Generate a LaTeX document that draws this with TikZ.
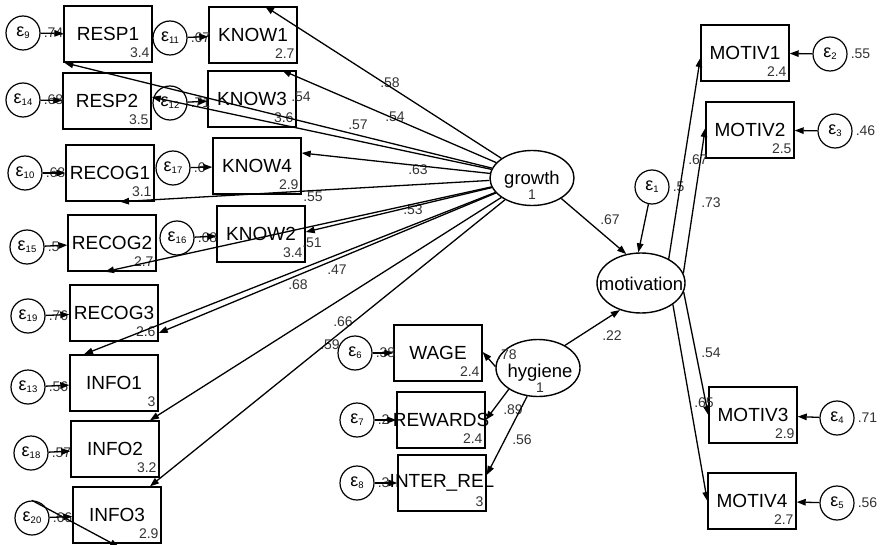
\documentclass[tikz,border=0pt]{standalone}
\usepackage{fontspec}
\setmainfont{Liberation Sans}
\usetikzlibrary{arrows.meta,shapes.geometric}

\tikzset{
  obsv/.style={draw, line width=1.4pt, minimum width=88pt, minimum height=56pt,
               inner sep=0pt, font=\fontsize{19}{19}\selectfont},
  meanv/.style={inner xsep=3pt, inner ysep=5pt, font=\fontsize{14}{14}\selectfont, text=black!80},
  latv/.style={draw, ellipse, line width=1.4pt, inner sep=0pt},
  latt/.style={inner sep=0pt, font=\fontsize{18.5}{18.5}\selectfont},
  errv/.style={draw, circle, line width=1.2pt, minimum size=34pt, inner sep=0pt},
  coef/.style={inner sep=0pt, font=\fontsize{14}{14}\selectfont, text=black!80},
  link/.style={line width=1.3pt, -{Triangle[length=9pt,width=6.5pt]}},
}

% epsilon with a lowered index
\newcommand\epsl[1]{{\fontsize{18}{18}\selectfont ε}{\fontsize{9.5}{9.5}\selectfont\raisebox{-2pt}{#1}}}
% observed variable: name, centre, label, mean
\newcommand\obsnode[4]{%
  \node[obsv] (#1) at (#2) {\makebox[0pt]{#3}};
  \node[meanv, anchor=south east] (#1-m) at (#1.south east) {#4};
}
% error term: name, centre, index, variance
\newcommand\errnode[4]{%
  \node[errv] (#1) at (#2) {\epsl{#3}};
  \node[coef, anchor=west] (#1-v) at ([xshift=3pt]#1.east) {#4};
}

\begin{document}
\begin{tikzpicture}[x=1pt,y=-1pt]
\useasboundingbox (0,0) rectangle (882,545);

% ---- growth indicators
\obsnode{resp1}{108,34}{RESP1}{3.4}
\obsnode{know1}{253,35}{KNOW1}{2.7}
\obsnode{resp2}{107,101}{RESP2}{3.5}
\obsnode{know3}{252,99}{KNOW3}{3.6}
\obsnode{recog1}{110,173}{RECOG1}{3.1}
\obsnode{know4}{257,166}{KNOW4}{2.9}
\obsnode{recog2}{112,243}{RECOG2}{2.7}
\obsnode{know2}{261,234}{KNOW2}{3.4}
\obsnode{recog3}{114,313}{RECOG3}{2.6}
\obsnode{info1}{114,383}{INFO1}{3}
\obsnode{info2}{115,449}{INFO2}{3.2}
\obsnode{info3}{117,515}{INFO3}{2.9}

% ---- hygiene indicators
\obsnode{wage}{438,353}{WAGE}{2.4}
\obsnode{rewards}{441,420}{REWARDS}{2.4}
\obsnode{interrel}{442,483}{INTER\_REL}{3}

% ---- motivation indicators
\obsnode{motiv1}{745,53}{MOTIV1}{2.4}
\obsnode{motiv2}{750,130}{MOTIV2}{2.5}
\obsnode{motiv3}{753,415}{MOTIV3}{2.9}
\obsnode{motiv4}{752,501}{MOTIV4}{2.7}

% ---- error terms
\errnode{e9}{23,33}{9}{.74}
\errnode{e11}{170,38}{11}{.67}
\errnode{e14}{23,100}{14}{.68}
\errnode{e12}{170,103}{12}{.71}
\errnode{e10}{25,173}{10}{.68}
\errnode{e17}{173,168}{17}{.6}
\errnode{e15}{27,247}{15}{.5}
\errnode{e16}{177,238}{16}{.68}
\errnode{e19}{28,316}{19}{.76}
\errnode{e13}{28,387}{13}{.56}
\errnode{e18}{31,453}{18}{.57}
\errnode{e20}{32,518}{20}{.66}
\errnode{e6}{355,353}{6}{.38}
\errnode{e7}{357,420}{7}{.2}
\errnode{e8}{357,483}{8}{.3}
\errnode{e1}{652,187}{1}{.5}
\errnode{e2}{830,54}{2}{.55}
\errnode{e3}{835,131}{3}{.46}
\errnode{e4}{837,418}{4}{.71}
\errnode{e5}{837,503}{5}{.56}

% ---- latent variables
\node[latv, minimum width=84pt, minimum height=55pt] (growth) at (532,178) {};
\node[latt, anchor=base] (growth-t) at (532,185) {growth};
\node[coef, anchor=base] (growth-v) at (532,200) {1};
\node[latv, minimum width=84pt, minimum height=57pt] (hygiene) at (538,368) {};
\node[latt, anchor=base] (hygiene-t) at (540,377) {hygiene};
\node[coef, anchor=base] (hygiene-v) at (540,392) {1};
\node[latv, minimum width=88pt, minimum height=60pt] (motivation) at (641,283) {};
\node[latt, anchor=base] (motivation-t) at (641,290) {motivation};

% ---- path coefficients
\node[coef] (c-know1) at (390,83) {.58};
\node[coef] (c-know3) at (395,117) {.54};
\node[coef] (c-resp1) at (301,97) {.54};
\node[coef] (c-resp2) at (358,125) {.57};
\node[coef] (c-know4) at (418,170) {.63};
\node[coef] (c-recog1) at (313,197) {.55};
\node[coef] (c-know2) at (413,210) {.53};
\node[coef] (c-recog2) at (312,243) {.51};
\node[coef] (c-info1) at (337,270) {.47};
\node[coef] (c-recog3) at (298,285) {.68};
\node[coef] (c-info2) at (343,322) {.66};
\node[coef] (c-info3) at (330,345) {.59};
\node[coef] (c-gm) at (610,220) {.67};
\node[coef] (c-hm) at (612,336) {.22};
\node[coef] (c-m1) at (698,160) {.67};
\node[coef] (c-m2) at (711,203) {.73};
\node[coef] (c-m3) at (711,353) {.54};
\node[coef] (c-m4) at (704,403) {.65};
\node[coef] (c-wage) at (507,355) {.78};
\node[coef] (c-rew) at (513,410) {.89};
\node[coef] (c-int) at (522,440) {.56};

% ---- error paths
\foreach \e/\v in {e9/resp1, e11/know1, e14/resp2, e12/know3, e10/recog1,
                   e17/know4, e15/recog2, e16/know2, e19/recog3, e13/info1,
                   e18/info2, e20/info3, e6/wage, e7/rewards, e8/interrel,
                   e2/motiv1, e3/motiv2, e4/motiv3, e5/motiv4}
  \draw[link] (\e) -- (\v);
\coordinate (e20-end) at (119,547);
\draw[link] (e20.north) -- (e20-end);

% ---- growth loadings
\draw[link] (growth) -- ([xshift=12pt]know1.north);
\draw[link] (growth) -- ([xshift=30pt]know3.north);
\draw[link] (growth) -- ([xshift=1pt]resp1.south west);
\draw[link] (growth) -- ([yshift=4pt]resp2.east);
\draw[link] (growth) -- ([yshift=13pt]know4.east);
\draw[link] (growth) -- ([xshift=10pt]recog1.south);
\draw[link] (growth) -- ([yshift=2pt]know2.east);
\draw[link] (growth) -- ([xshift=-7pt]recog2.south);
\draw[link] (growth) -- ([yshift=-20pt]recog3.east);
\draw[link] (growth) -- ([xshift=-30pt]info1.north);
\draw[link] (growth) -- ([xshift=35pt]info2.north);
\draw[link] (growth) -- ([xshift=33pt]info3.north);

% ---- hygiene loadings
\draw[link] (hygiene.178) -- ([yshift=1pt]wage.east);
\draw[link] (hygiene.216) -- (rewards.east);
\draw[link] (hygiene.249) -- ([yshift=8pt]interrel.east);

% ---- structural paths
\draw[link] (growth.-35) -- (motivation.117);
\draw[link] (hygiene.40) -- (motivation.232);
\draw[link] (e1) -- (motivation.95);

% ---- motivation loadings
\draw[link] (motivation.41) -- ([yshift=-5pt]motiv1.west);
\draw[link] (motivation.13) -- ([yshift=2pt]motiv2.west);
\draw[link] (motivation.-12) -- (motiv3.west);
\draw[link] (motivation.-34) -- (motiv4.west);
\end{tikzpicture}
\end{document}
